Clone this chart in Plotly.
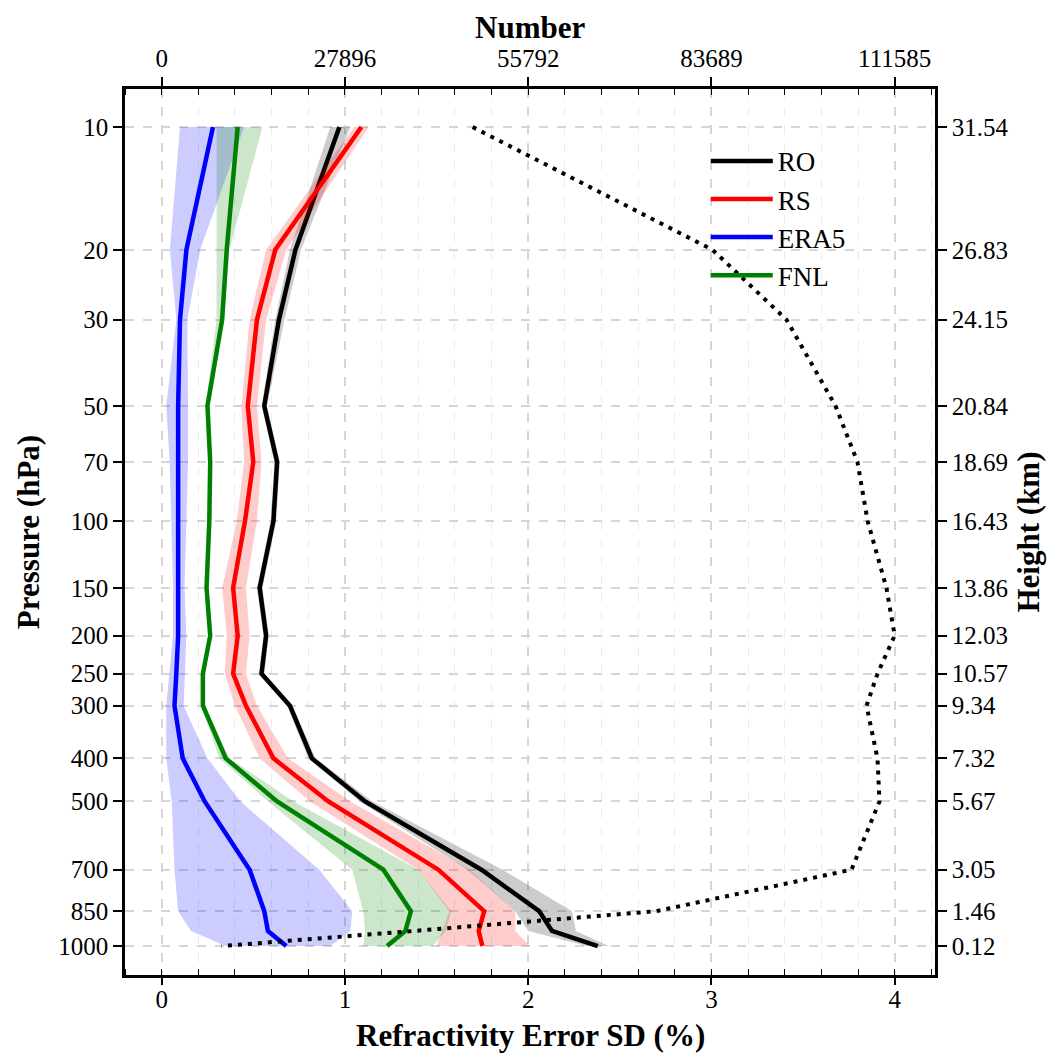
import plotly.graph_objects as go

# ---------------- data ----------------
pressure_labels = ["10", "20", "30", "50", "70", "100", "150", "200", "250", "300",
                   "400", "500", "700", "850", "925", "1000"]
heights = [31.54, 26.83, 24.15, 20.84, 18.69, 16.43, 13.86, 12.03, 10.57, 9.34,
           7.32, 5.67, 3.05, 1.46, 0.70, 0.12]
tick_pressures = ["10", "20", "30", "50", "70", "100", "150", "200", "250", "300",
                  "400", "500", "700", "850", "1000"]
tick_heights = [31.54, 26.83, 24.15, 20.84, 18.69, 16.43, 13.86, 12.03, 10.57, 9.34,
                7.32, 5.67, 3.05, 1.46, 0.12]
height_labels = ["31.54", "26.83", "24.15", "20.84", "18.69", "16.43", "13.86", "12.03",
                 "10.57", "9.34", "7.32", "5.67", "3.05", "1.46", "0.12"]
x_ticks = [0, 1, 2, 3, 4]

ro_mean = [0.97, 0.73, 0.64, 0.56, 0.63, 0.61, 0.535, 0.57, 0.545, 0.70, 0.82, 1.11, 1.745, 2.06, 2.13, 2.38]
ro_low  = [0.92, 0.70, 0.62, 0.545, 0.615, 0.595, 0.52, 0.555, 0.53, 0.685, 0.80, 1.08, 1.67, 1.93, 2.00, 2.32]
ro_high = [1.03, 0.76, 0.67, 0.575, 0.645, 0.625, 0.55, 0.585, 0.56, 0.715, 0.84, 1.15, 1.86, 2.24, 2.26, 2.44]

rs_mean = [1.09, 0.62, 0.52, 0.47, 0.50, 0.455, 0.39, 0.415, 0.39, 0.46, 0.61, 0.91, 1.51, 1.76, 1.73, 1.75]
rs_low  = [1.05, 0.57, 0.48, 0.435, 0.45, 0.41, 0.33, 0.355, 0.345, 0.40, 0.535, 0.81, 1.40, 1.57, 1.53, 1.50]
rs_high = [1.13, 0.68, 0.57, 0.52, 0.545, 0.52, 0.46, 0.48, 0.46, 0.52, 0.69, 1.03, 1.68, 1.93, 1.93, 2.01]

era5_mean = [0.28, 0.135, 0.10, 0.09, 0.09, 0.09, 0.09, 0.09, 0.08, 0.07, 0.115, 0.235, 0.48, 0.56, 0.58, 0.68]
era5_low  = [0.10, 0.045, 0.08, 0.025, 0.044, 0.053, 0.062, 0.062, 0.044, 0.025, 0.025, 0.055, 0.07, 0.09, 0.16, 0.35]
era5_high = [0.45, 0.21, 0.14, 0.144, 0.144, 0.135, 0.125, 0.135, 0.125, 0.12, 0.25, 0.43, 0.86, 1.04, 1.03, 0.92]

fnl_mean = [0.415, 0.355, 0.33, 0.25, 0.265, 0.26, 0.245, 0.265, 0.225, 0.225, 0.35, 0.63, 1.21, 1.36, 1.33, 1.23]
fnl_low  = [0.30, 0.30, 0.30, 0.24, 0.255, 0.25, 0.235, 0.255, 0.215, 0.215, 0.315, 0.58, 1.04, 1.10, 1.11, 1.10]
fnl_high = [0.55, 0.37, 0.34, 0.26, 0.275, 0.27, 0.255, 0.275, 0.235, 0.235, 0.37, 0.72, 1.40, 1.58, 1.55, 1.48]

number = [47340, 83860, 95120, 102580, 105920, 107460, 110330, 111585, 108970, 107300,
          108970, 109270, 105010, 75330, 38350, 9130]
number_ticks = [0, 27896, 55792, 83689, 111585]

series = [
    ("RO", ro_mean, ro_low, ro_high, "black", "rgba(0,0,0,0.2)"),
    ("RS", rs_mean, rs_low, rs_high, "red", "rgba(255,0,0,0.2)"),
    ("ERA5", era5_mean, era5_low, era5_high, "blue", "rgba(0,0,255,0.2)"),
    ("FNL", fnl_mean, fnl_low, fnl_high, "green", "rgba(0,128,0,0.2)"),
]

FONT = "Liberation Serif"
X_RANGE = [-0.2, 4.22]
Y_RANGE = [-0.99, 33.0]
scale = max(number_ticks) / 4.0

fig = go.Figure()

for name, mean, low, high, color, fillc in series:
    fig.add_trace(go.Scatter(
        x=list(low) + list(high)[::-1],
        y=list(heights) + list(heights)[::-1],
        fill="toself", fillcolor=fillc, line=dict(width=0),
        mode="lines", hoverinfo="skip", showlegend=False))
    fig.add_trace(go.Scatter(
        x=mean, y=heights, mode="lines", name=name,
        line=dict(color=color, width=4.5)))

fig.add_trace(go.Scatter(
    x=number, y=heights, mode="lines", xaxis="x2", yaxis="y2",
    line=dict(color="black", width=4, dash="4px,6px"), showlegend=False))

# placeholder trace (no visible data) so that the tick-mark axis (x3) is drawn
fig.add_trace(go.Scatter(x=[None], y=[None], xaxis="x3", yaxis="y", mode="markers",
                         marker=dict(opacity=0), showlegend=False, hoverinfo="skip"))

tickfont = dict(family=FONT, size=25, color="black")
titlefont = dict(family=FONT, size=31, color="black")

fig.update_layout(
    width=1050, height=1056,
    margin=dict(l=125, r=115, t=89, b=81),
    paper_bgcolor="white", plot_bgcolor="white",
    font=dict(family=FONT, color="black"),
    showlegend=True,
    legend=dict(x=0.717, y=0.946, xanchor="left", yanchor="top",
                itemwidth=62, tracegroupgap=0,
                bgcolor="rgba(0,0,0,0)", font=dict(family=FONT, size=27)),
    # bottom axis: labels + grid (tick marks drawn by xaxis3)
    xaxis=dict(
        range=X_RANGE, tickvals=x_ticks, ticktext=[str(v) for v in x_ticks],
        ticks="",
        showline=True, linecolor="black", linewidth=2.5,
        showgrid=True, gridcolor="#d6d6d6", griddash="dash", gridwidth=1.5,
        minor=dict(dtick=0.2, tick0=0, ticks="", showgrid=True, gridcolor="#ececec",
                   griddash="dash", gridwidth=1),
        zeroline=False, tickfont=tickfont, automargin=False,
    ),
    # bottom axis tick marks (major outside, minor inside)
    xaxis3=dict(
        overlaying="x", side="bottom", anchor="y", range=X_RANGE,
        tickvals=x_ticks, ticks="outside", ticklen=9, tickwidth=1.5, tickcolor="black",
        showticklabels=False, showline=False, showgrid=False, zeroline=False,
        minor=dict(dtick=0.2, tick0=0, ticks="inside", ticklen=6, tickwidth=1,
                   tickcolor="black", showgrid=False),
        automargin=False,
    ),
    xaxis2=dict(
        overlaying="x", side="top", anchor="y",
        range=[X_RANGE[0] * scale, X_RANGE[1] * scale],
        tickvals=number_ticks, ticktext=[str(v) for v in number_ticks],
        ticks="outside", ticklen=9, tickwidth=1.5, tickcolor="black",
        showline=True, linecolor="black", linewidth=2.5,
        showgrid=False, zeroline=False, automargin=False,
        minor=dict(dtick=0.2 * scale, tick0=0, ticks="inside", ticklen=6,
                   tickwidth=1, tickcolor="black", showgrid=False),
        tickfont=tickfont,
    ),
    yaxis=dict(
        range=Y_RANGE, tickvals=tick_heights, ticktext=tick_pressures,
        ticks="outside", ticklen=9, tickwidth=1.5, tickcolor="black",
        showline=True, linecolor="black", linewidth=2.5,
        showgrid=True, gridcolor="#d6d6d6", griddash="dash", gridwidth=1.5,
        zeroline=False, tickfont=tickfont, automargin=False,
        title=dict(text="<b>Pressure (hPa)</b>", font=titlefont, standoff=10),
    ),
    yaxis2=dict(
        overlaying="y", side="right", anchor="x",
        range=Y_RANGE, tickvals=tick_heights, ticktext=height_labels,
        ticks="outside", ticklen=9, tickwidth=1.5, tickcolor="black",
        showline=True, linecolor="black", linewidth=2.5,
        showgrid=False, zeroline=False, tickfont=tickfont, automargin=False,
        title=dict(text="<b>Height (km)</b>", font=titlefont, standoff=10),
    ),
    annotations=[
        dict(text="<b>Number</b>", xref="paper", yref="paper", x=0.5, y=1.0,
             yshift=62, xanchor="center", yanchor="middle", showarrow=False,
             font=titlefont),
        dict(text="<b>Refractivity Error SD (%)</b>", xref="paper", yref="paper",
             x=0.5, y=0.0, yshift=-60, xanchor="center", yanchor="middle",
             showarrow=False, font=titlefont),
    ],
)

fig.write_html("out.html")
